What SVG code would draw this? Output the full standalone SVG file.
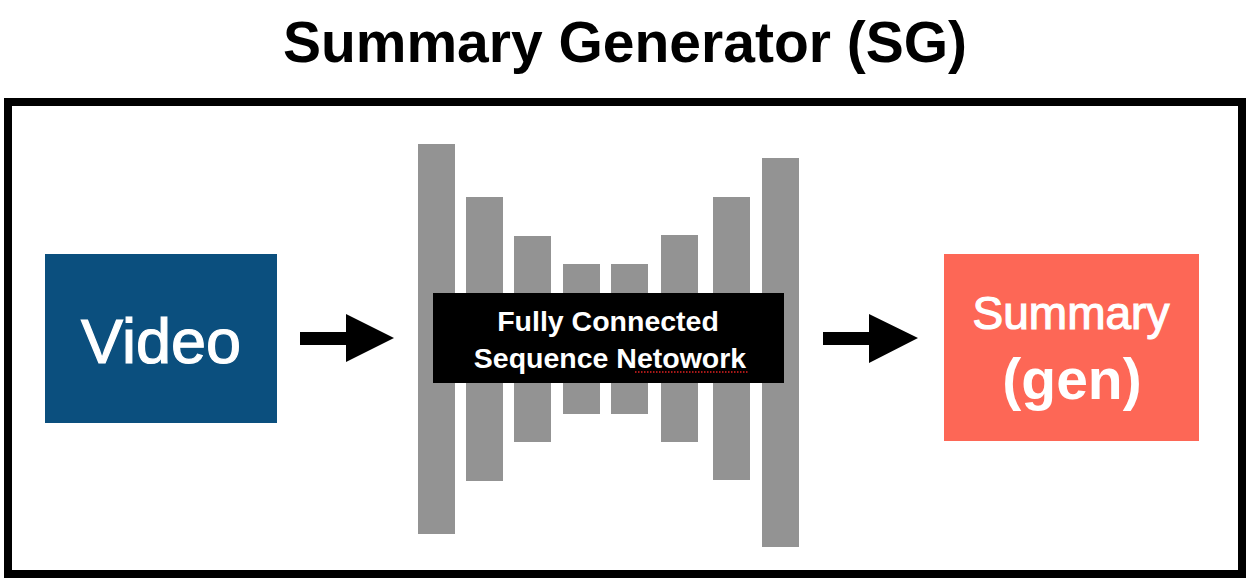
<svg xmlns="http://www.w3.org/2000/svg" width="1252" height="584" viewBox="0 0 1252 584">
<style>
.bar{fill:#939393}
.t{font-family:"Liberation Sans",Arial,sans-serif;fill:#fff;text-anchor:middle}
.med{stroke:#fff;stroke-width:1.2px}
</style>
<rect width="1252" height="584" fill="#fff"/>
<text x="625" y="62" style="font-family:'Liberation Sans',Arial,sans-serif;font-weight:bold;font-size:57px;text-anchor:middle" fill="#000">Summary Generator (SG)</text>
<rect x="8" y="102" width="1234" height="472" fill="none" stroke="#000" stroke-width="8"/>
<g id="video">
<rect x="45" y="254" width="232" height="169" fill="#0B4F7E"/>
<text class="t med" x="161" y="363" style="font-size:63px">Video</text>
</g>
<g id="network">
<rect class="bar" x="418" y="144" width="37" height="390"/>
<rect class="bar" x="466" y="197" width="37" height="284"/>
<rect class="bar" x="514" y="236" width="37" height="206"/>
<rect class="bar" x="563" y="264" width="37" height="150"/>
<rect class="bar" x="611" y="264" width="37" height="150"/>
<rect class="bar" x="661" y="235" width="37" height="207"/>
<rect class="bar" x="713" y="197" width="37" height="283"/>
<rect class="bar" x="762" y="158" width="37" height="389"/>
<rect x="433" y="293" width="351" height="90" fill="#000"/>
<text class="t" x="608" y="331" style="font-size:28.5px;font-weight:bold">Fully Connected</text>
<text class="t" x="610" y="368" style="font-size:28.5px;font-weight:bold">Sequence Netowork</text>
<line x1="635" y1="372" x2="748" y2="372" stroke="#e02020" stroke-width="1.5" stroke-dasharray="1.5 1.5"/>
</g>
<g id="summary">
<rect x="944" y="254" width="255" height="187" fill="#FD6756"/>
<text class="t med" x="1071" y="329" style="font-size:46px">Summary</text>
<text class="t" x="1072" y="399" style="font-size:57px;font-weight:bold">(gen)</text>
</g>
<g id="connectors" fill="#000">
<polygon points="300,332 346,332 346,314 394,338 346,362 346,345 300,345"/>
<polygon points="823,332 869,332 869,314 918,338 869,363 869,345 823,345"/>
</g>
</svg>
